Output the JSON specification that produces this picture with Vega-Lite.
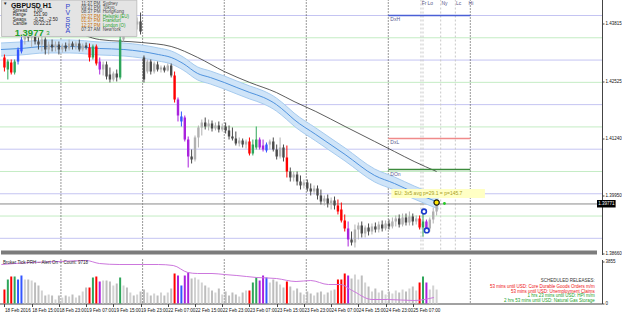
{
"$schema": "https://vega.github.io/schema/vega-lite/v6.json",
"padding": {"left": -5, "top": -1.5, "right": 0, "bottom": 0},
"background": "white",
"spacing": 2,
"config": {"view": {"stroke": null}, "font": "Liberation Sans", "axis": {"grid": false, "title": null}},
"datasets": {
"c": [
{"i":0,"t":"R","o":1.43058,"h":1.43125,"l":1.42743,"c":1.42833,"v":14},
{"i":1,"t":"G","o":1.42788,"h":1.43013,"l":1.42564,"c":1.42967,"v":24},
{"i":2,"t":"R","o":1.42946,"h":1.43013,"l":1.42676,"c":1.42721,"v":27},
{"i":3,"t":"G","o":1.42721,"h":1.43013,"l":1.42676,"c":1.42967,"v":27},
{"i":4,"t":"B","o":1.42967,"h":1.43282,"l":1.42901,"c":1.43237,"v":24},
{"i":5,"t":"B","o":1.43193,"h":1.43574,"l":1.43148,"c":1.43461,"v":28},
{"i":6,"t":"U","o":1.43461,"h":1.43798,"l":1.43349,"c":1.43686,"v":24},
{"i":7,"t":"D","o":1.43686,"h":1.43798,"l":1.43417,"c":1.43506,"v":24},
{"i":8,"t":"U","o":1.43506,"h":1.43686,"l":1.43282,"c":1.43574,"v":23},
{"i":9,"t":"D","o":1.43574,"h":1.43686,"l":1.43349,"c":1.43417,"v":21},
{"i":10,"t":"D","o":1.43417,"h":1.43506,"l":1.43237,"c":1.43349,"v":18},
{"i":11,"t":"U","o":1.43349,"h":1.43574,"l":1.43193,"c":1.43461,"v":13},
{"i":12,"t":"D","o":1.43461,"h":1.43506,"l":1.43125,"c":1.43237,"v":8},
{"i":13,"t":"U","o":1.43237,"h":1.43417,"l":1.43125,"c":1.43349,"v":9},
{"i":14,"t":"D","o":1.43349,"h":1.43461,"l":1.43193,"c":1.43282,"v":8},
{"i":15,"t":"U","o":1.43282,"h":1.43417,"l":1.43193,"c":1.43349,"v":4},
{"i":16,"t":"D","o":1.43349,"h":1.43417,"l":1.43125,"c":1.43237,"v":8},
{"i":17,"t":"U","o":1.43237,"h":1.43372,"l":1.43170,"c":1.43327,"v":6},
{"i":18,"t":"D","o":1.43327,"h":1.43394,"l":1.43193,"c":1.43260,"v":8},
{"i":19,"t":"U","o":1.43260,"h":1.43461,"l":1.43215,"c":1.43372,"v":7},
{"i":20,"t":"D","o":1.43372,"h":1.43417,"l":1.43237,"c":1.43305,"v":9},
{"i":21,"t":"U","o":1.43305,"h":1.43417,"l":1.43237,"c":1.43372,"v":6},
{"i":22,"t":"D","o":1.43372,"h":1.43461,"l":1.43193,"c":1.43237,"v":8},
{"i":23,"t":"U","o":1.43237,"h":1.43372,"l":1.43193,"c":1.43327,"v":12},
{"i":24,"t":"D","o":1.43327,"h":1.43394,"l":1.43237,"c":1.43282,"v":16},
{"i":25,"t":"R","o":1.43282,"h":1.43372,"l":1.42967,"c":1.43058,"v":16},
{"i":26,"t":"G","o":1.43058,"h":1.43349,"l":1.43013,"c":1.43305,"v":26},
{"i":27,"t":"R","o":1.43305,"h":1.43349,"l":1.42878,"c":1.42923,"v":27},
{"i":28,"t":"P","o":1.42967,"h":1.43058,"l":1.42676,"c":1.42788,"v":22},
{"i":29,"t":"U","o":1.42788,"h":1.42967,"l":1.42654,"c":1.42901,"v":23},
{"i":30,"t":"D","o":1.42901,"h":1.42967,"l":1.42564,"c":1.42631,"v":23},
{"i":31,"t":"D","o":1.42676,"h":1.42833,"l":1.42497,"c":1.42564,"v":22},
{"i":32,"t":"U","o":1.42564,"h":1.42743,"l":1.42519,"c":1.42698,"v":18},
{"i":33,"t":"D","o":1.42698,"h":1.42788,"l":1.42519,"c":1.42609,"v":20},
{"i":34,"t":"G","o":1.42609,"h":1.44022,"l":1.42564,"c":1.43461,"v":26},
{"i":35,"t":"U","o":1.43461,"h":1.44135,"l":1.43417,"c":1.43910,"v":18},
{"i":36,"t":"D","o":1.43910,"h":1.44090,"l":1.43641,"c":1.43731,"v":16},
{"i":37,"t":"U","o":1.43731,"h":1.44022,"l":1.43641,"c":1.43910,"v":11},
{"i":38,"t":"D","o":1.43910,"h":1.44045,"l":1.43686,"c":1.43798,"v":8},
{"i":39,"t":"U","o":1.43798,"h":1.43955,"l":1.43686,"c":1.43866,"v":9},
{"i":40,"t":"D","o":1.43866,"h":1.44067,"l":1.43574,"c":1.43641,"v":12},
{"i":41,"t":"D","o":1.43058,"h":1.43103,"l":1.42497,"c":1.42564,"v":14},
{"i":42,"t":"U","o":1.42743,"h":1.43013,"l":1.42698,"c":1.42967,"v":11},
{"i":43,"t":"D","o":1.42967,"h":1.43013,"l":1.42676,"c":1.42743,"v":8},
{"i":44,"t":"U","o":1.42743,"h":1.42967,"l":1.42698,"c":1.42923,"v":10},
{"i":45,"t":"D","o":1.42901,"h":1.42967,"l":1.42743,"c":1.42788,"v":8},
{"i":46,"t":"U","o":1.42788,"h":1.42878,"l":1.42721,"c":1.42833,"v":11},
{"i":47,"t":"D","o":1.42833,"h":1.42878,"l":1.42721,"c":1.42766,"v":8},
{"i":48,"t":"U","o":1.42766,"h":1.42923,"l":1.42743,"c":1.42878,"v":11},
{"i":49,"t":"D","o":1.42878,"h":1.42923,"l":1.42609,"c":1.42654,"v":15},
{"i":50,"t":"R","o":1.42654,"h":1.42743,"l":1.42047,"c":1.42115,"v":30},
{"i":51,"t":"P","o":1.42115,"h":1.42160,"l":1.41622,"c":1.41756,"v":28},
{"i":52,"t":"B","o":1.41622,"h":1.41846,"l":1.41509,"c":1.41734,"v":18},
{"i":53,"t":"P","o":1.41711,"h":1.41756,"l":1.41173,"c":1.41217,"v":28},
{"i":54,"t":"P","o":1.41217,"h":1.41285,"l":1.40589,"c":1.40836,"v":31},
{"i":55,"t":"D","o":1.40836,"h":1.40993,"l":1.40679,"c":1.40769,"v":25},
{"i":56,"t":"U","o":1.40769,"h":1.41307,"l":1.40724,"c":1.41263,"v":26},
{"i":57,"t":"U","o":1.41263,"h":1.41532,"l":1.41038,"c":1.41487,"v":24},
{"i":58,"t":"U","o":1.41487,"h":1.41666,"l":1.41307,"c":1.41599,"v":21},
{"i":59,"t":"D","o":1.41599,"h":1.41711,"l":1.41442,"c":1.41509,"v":18},
{"i":60,"t":"U","o":1.41509,"h":1.41666,"l":1.41420,"c":1.41577,"v":16},
{"i":61,"t":"D","o":1.41577,"h":1.41644,"l":1.41397,"c":1.41465,"v":13},
{"i":62,"t":"U","o":1.41465,"h":1.41599,"l":1.41420,"c":1.41532,"v":11},
{"i":63,"t":"D","o":1.41532,"h":1.41622,"l":1.41375,"c":1.41442,"v":15},
{"i":64,"t":"U","o":1.41442,"h":1.41577,"l":1.41397,"c":1.41509,"v":9},
{"i":65,"t":"D","o":1.41509,"h":1.41599,"l":1.41352,"c":1.41420,"v":12},
{"i":66,"t":"D","o":1.41420,"h":1.41532,"l":1.41217,"c":1.41285,"v":8},
{"i":67,"t":"D","o":1.41285,"h":1.41487,"l":1.41195,"c":1.41240,"v":11},
{"i":68,"t":"D","o":1.41240,"h":1.41397,"l":1.41083,"c":1.41128,"v":9},
{"i":69,"t":"U","o":1.41128,"h":1.41263,"l":1.41061,"c":1.41195,"v":7},
{"i":70,"t":"D","o":1.41195,"h":1.41240,"l":1.41038,"c":1.41105,"v":11},
{"i":71,"t":"U","o":1.41105,"h":1.41217,"l":1.41016,"c":1.41173,"v":13},
{"i":72,"t":"R","o":1.41173,"h":1.41263,"l":1.40859,"c":1.40903,"v":13},
{"i":73,"t":"G","o":1.40903,"h":1.41217,"l":1.40859,"c":1.41105,"v":21},
{"i":74,"t":"G","o":1.41038,"h":1.41509,"l":1.40993,"c":1.41217,"v":26},
{"i":75,"t":"P","o":1.41217,"h":1.41263,"l":1.40993,"c":1.41038,"v":23},
{"i":76,"t":"P","o":1.41083,"h":1.41217,"l":1.40948,"c":1.40993,"v":28},
{"i":77,"t":"B","o":1.40971,"h":1.41150,"l":1.40926,"c":1.41105,"v":26},
{"i":78,"t":"U","o":1.41105,"h":1.41217,"l":1.40993,"c":1.41173,"v":21},
{"i":79,"t":"D","o":1.41173,"h":1.41263,"l":1.40948,"c":1.40993,"v":24},
{"i":80,"t":"D","o":1.40993,"h":1.41105,"l":1.40769,"c":1.40836,"v":22},
{"i":81,"t":"U","o":1.40836,"h":1.41263,"l":1.40791,"c":1.41038,"v":19},
{"i":82,"t":"D","o":1.41038,"h":1.41105,"l":1.40724,"c":1.40814,"v":16},
{"i":83,"t":"R","o":1.40814,"h":1.41083,"l":1.40365,"c":1.40499,"v":22},
{"i":84,"t":"D","o":1.40499,"h":1.40589,"l":1.40275,"c":1.40365,"v":17},
{"i":85,"t":"U","o":1.40365,"h":1.40499,"l":1.40275,"c":1.40432,"v":13},
{"i":86,"t":"D","o":1.40432,"h":1.40499,"l":1.40186,"c":1.40275,"v":15},
{"i":87,"t":"D","o":1.40275,"h":1.40410,"l":1.40095,"c":1.40186,"v":11},
{"i":88,"t":"U","o":1.40186,"h":1.40320,"l":1.40118,"c":1.40253,"v":9},
{"i":89,"t":"D","o":1.40253,"h":1.40320,"l":1.40051,"c":1.40118,"v":12},
{"i":90,"t":"D","o":1.40118,"h":1.40231,"l":1.39961,"c":1.40051,"v":10},
{"i":91,"t":"U","o":1.40051,"h":1.40186,"l":1.39983,"c":1.40118,"v":8},
{"i":92,"t":"D","o":1.40118,"h":1.40186,"l":1.39871,"c":1.39961,"v":11},
{"i":93,"t":"D","o":1.39961,"h":1.40095,"l":1.39759,"c":1.39826,"v":12},
{"i":94,"t":"U","o":1.39826,"h":1.39961,"l":1.39737,"c":1.39894,"v":9},
{"i":95,"t":"D","o":1.39894,"h":1.39983,"l":1.39692,"c":1.39781,"v":11},
{"i":96,"t":"U","o":1.39781,"h":1.39916,"l":1.39647,"c":1.39849,"v":13},
{"i":97,"t":"D","o":1.39849,"h":1.39938,"l":1.39647,"c":1.39737,"v":14},
{"i":98,"t":"R","o":1.39737,"h":1.39871,"l":1.39535,"c":1.39602,"v":24},
{"i":99,"t":"R","o":1.39647,"h":1.39804,"l":1.39355,"c":1.39400,"v":24},
{"i":100,"t":"R","o":1.39400,"h":1.39535,"l":1.39153,"c":1.39221,"v":30},
{"i":101,"t":"P","o":1.39221,"h":1.39378,"l":1.38817,"c":1.38974,"v":28},
{"i":102,"t":"D","o":1.38974,"h":1.39153,"l":1.38839,"c":1.38906,"v":25},
{"i":103,"t":"U","o":1.38906,"h":1.39310,"l":1.38794,"c":1.39198,"v":29},
{"i":104,"t":"U","o":1.39198,"h":1.39355,"l":1.38974,"c":1.39288,"v":24},
{"i":105,"t":"D","o":1.39288,"h":1.39378,"l":1.39019,"c":1.39109,"v":28},
{"i":106,"t":"U","o":1.39109,"h":1.39288,"l":1.39019,"c":1.39243,"v":21},
{"i":107,"t":"D","o":1.39243,"h":1.39333,"l":1.39064,"c":1.39153,"v":17},
{"i":108,"t":"U","o":1.39153,"h":1.39333,"l":1.39086,"c":1.39266,"v":12},
{"i":109,"t":"D","o":1.39266,"h":1.39355,"l":1.39131,"c":1.39198,"v":15},
{"i":110,"t":"U","o":1.39198,"h":1.39378,"l":1.39131,"c":1.39310,"v":11},
{"i":111,"t":"D","o":1.39310,"h":1.39400,"l":1.39153,"c":1.39221,"v":13},
{"i":112,"t":"U","o":1.39221,"h":1.39400,"l":1.39176,"c":1.39333,"v":9},
{"i":113,"t":"D","o":1.39333,"h":1.39422,"l":1.39198,"c":1.39266,"v":12},
{"i":114,"t":"U","o":1.39266,"h":1.39468,"l":1.39221,"c":1.39378,"v":10},
{"i":115,"t":"U","o":1.39378,"h":1.39513,"l":1.39266,"c":1.39445,"v":13},
{"i":116,"t":"D","o":1.39445,"h":1.39535,"l":1.39243,"c":1.39310,"v":11},
{"i":117,"t":"U","o":1.39310,"h":1.39557,"l":1.39266,"c":1.39468,"v":14},
{"i":118,"t":"D","o":1.39468,"h":1.39557,"l":1.39288,"c":1.39355,"v":12},
{"i":119,"t":"U","o":1.39355,"h":1.39602,"l":1.39288,"c":1.39490,"v":15},
{"i":120,"t":"D","o":1.39490,"h":1.39557,"l":1.39288,"c":1.39378,"v":17},
{"i":121,"t":"U","o":1.39378,"h":1.39513,"l":1.39310,"c":1.39445,"v":13},
{"i":122,"t":"R","o":1.39445,"h":1.39513,"l":1.39198,"c":1.39243,"v":21},
{"i":123,"t":"G","o":1.39243,"h":1.39602,"l":1.39041,"c":1.39378,"v":27},
{"i":124,"t":"P","o":1.39378,"h":1.39422,"l":1.39176,"c":1.39221,"v":21},
{"i":125,"t":"U","o":1.39221,"h":1.39468,"l":1.39153,"c":1.39422,"v":14},
{"i":126,"t":"U","o":1.39422,"h":1.39692,"l":1.39333,"c":1.39602,"v":18},
{"i":127,"t":"U","o":1.39602,"h":1.39804,"l":1.39513,"c":1.39771,"v":14}
],
"ma": [
{"i":-1.01,"m":1.43237,"u":1.43383,"d":1.43091},
{"i":4.8,"m":1.43260,"u":1.43406,"d":1.43114},
{"i":12,"m":1.43305,"u":1.43451,"d":1.43159},
{"i":19.2,"m":1.43305,"u":1.43451,"d":1.43159},
{"i":27.9,"m":1.43260,"u":1.43406,"d":1.43114},
{"i":35.1,"m":1.43237,"u":1.43383,"d":1.43091},
{"i":40.3,"m":1.43193,"u":1.43339,"d":1.43047},
{"i":45.2,"m":1.43125,"u":1.43271,"d":1.42979},
{"i":49,"m":1.43058,"u":1.43204,"d":1.42912},
{"i":52.5,"m":1.42923,"u":1.43069,"d":1.42777},
{"i":56.8,"m":1.42698,"u":1.42844,"d":1.42552},
{"i":60.5,"m":1.42609,"u":1.42755,"d":1.42463},
{"i":64.6,"m":1.42497,"u":1.42643,"d":1.42351},
{"i":68.3,"m":1.42384,"u":1.42530,"d":1.42238},
{"i":72.1,"m":1.42272,"u":1.42418,"d":1.42126},
{"i":76.2,"m":1.42160,"u":1.42306,"d":1.42014},
{"i":79.9,"m":1.42003,"u":1.42149,"d":1.41857},
{"i":82.8,"m":1.41823,"u":1.41969,"d":1.41677},
{"i":85.1,"m":1.41666,"u":1.41812,"d":1.41520},
{"i":91.5,"m":1.41330,"u":1.41476,"d":1.41184},
{"i":100.1,"m":1.40881,"u":1.41027,"d":1.40735},
{"i":108.8,"m":1.40410,"u":1.40556,"d":1.40264},
{"i":114.6,"m":1.40231,"u":1.40377,"d":1.40085},
{"i":120.4,"m":1.40028,"u":1.40174,"d":1.39882},
{"i":127.6,"m":1.39804,"u":1.39950,"d":1.39658}
],
"ma2": [
{"i":20,"p":1.43686},{"i":27.9,"p":1.43461},{"i":40.3,"p":1.43394},{"i":49,"p":1.43305},{"i":56.8,"p":1.43058},{"i":64.6,"p":1.42743},{"i":72.1,"p":1.42497},{"i":79.9,"p":1.42272},{"i":85.1,"p":1.42070},{"i":91.5,"p":1.41846},{"i":100.1,"p":1.41509},{"i":108.8,"p":1.41173},{"i":114.6,"p":1.40948},{"i":120.4,"p":1.40724},{"i":127,"p":1.40499}
],
"vma": [
{"i":-0.9,"v":39},{"i":7.7,"v":41},{"i":16.3,"v":42},{"i":24,"v":43},{"i":27.9,"v":40},{"i":33.7,"v":39},{"i":40.6,"v":39},{"i":45.2,"v":39},{"i":49.6,"v":38},{"i":53.9,"v":31},{"i":56.8,"v":30},{"i":61,"v":30},{"i":64.6,"v":29},{"i":68.3,"v":28},{"i":74.1,"v":26},{"i":79.9,"v":25},{"i":85.7,"v":22},{"i":90,"v":23},{"i":95.2,"v":19},{"i":98.7,"v":19},{"i":102.2,"v":13},{"i":108,"v":4},{"i":112.6,"v":4},{"i":120.4,"v":3},{"i":126.2,"v":6}
],
"levels": [
{"p":1.44,"k":"whole"},{"p":1.435,"k":"half"},{"p":1.43,"k":"whole"},{"p":1.425,"k":"half"},{"p":1.42,"k":"whole"},{"p":1.415,"k":"half"},{"p":1.41,"k":"whole"},{"p":1.405,"k":"half"},{"p":1.40,"k":"whole"},{"p":1.395,"k":"half"},{"p":1.39,"k":"whole"}
],
"days": [{"i":16.6},{"i":40.6},{"i":64.6},{"i":88.7},{"i":112.8},{"i":136.9}],
"sess": [{"i":122.4},{"i":123.0},{"i":128.2},{"i":132.5}],
"sesslab": [{"i":122.6,"p":1.44335,"n":"Fr"},{"i":124.3,"p":1.44335,"n":"Lo"},{"i":128.4,"p":1.44335,"n":"Ny"},{"i":132.7,"p":1.44335,"n":"Lc"},{"i":136.4,"p":1.44335,"n":"Hi"}],
"daylv": [
{"n":"DxH","p":1.44,"i1":112.8,"i2":136.9},
{"n":"DxL","p":1.4124,"i1":112.8,"i2":136.9},
{"n":"DOn","p":1.40544,"i1":112.8,"i2":136.9}
],
"bid": [{"p":1.39771}],
"sep": [{"i1":-1.01,"i2":174.13,"p1":1.38637,"p2":1.38727}],
"note": [{"i1":113.7,"i2":141.2,"p1":1.40107,"p2":1.39905,"i":114.6,"p":1.40006,"txt":"EU: 3x5 avg p=29.1 = p=145.7"}],
"fractal": [{"i":123.3,"p":1.39602},{"i":124.1,"p":1.39176}],
"cur": [{"i":127,"p":1.39804}],
"tick": [{"i":129.3,"p":1.39781}],
"box": [{"i1":-0.85,"i2":38.9,"p1":1.44345,"p2":1.43529}],
"pxbox": [{"i1":174.13,"i2":179.6,"p1":1.3986,"p2":1.39692,"i":174.5,"p":1.39771,"txt":"1.39771"}],
"title": [{"i":1.9,"p":1.44224,"txt":"GBPUSD  H1"}],
"quote": [{"i":3.0,"p":1.43618,"txt":"1.3977"}],
"quote2": [{"i":12.3,"p":1.436,"txt":"3"}],
"info": [
{"i":-0.4,"p":1.44247,"txt":"▼"},
{"i":2.46,"p":1.44090,"txt":"Spread"},
{"i":2.46,"p":1.44000,"txt":"Range"},
{"i":2.46,"p":1.43910,"txt":"Swaps"},
{"i":2.46,"p":1.43820,"txt":"Candle"},
{"i":8.53,"p":1.44090,"txt":"1.00"},
{"i":8.53,"p":1.44000,"txt":"151.90"},
{"i":8.53,"p":1.43910,"txt":"-0.25 , -2.50"},
{"i":8.53,"p":1.43820,"txt":"00:22:21"}
],
"pvsra": [
{"i":18.6,"p":1.44191,"txt":"P"},{"i":18.6,"p":1.44045,"txt":"V"},{"i":18.6,"p":1.43899,"txt":"S"},{"i":18.6,"p":1.43775,"txt":"R"},{"i":18.6,"p":1.43641,"txt":"A"}
],
"clock": [
{"it":22.6,"ic":28.9,"p":1.44269,"tm":"11:37 PM","city":"Sydney","s":"closed"},
{"it":22.6,"ic":28.9,"p":1.44173,"tm":"09:37 PM","city":"Tokyo","s":"closed"},
{"it":22.6,"ic":28.9,"p":1.44074,"tm":"08:37 PM","city":"HongKong","s":"closed"},
{"it":22.6,"ic":28.9,"p":1.43973,"tm":"02:37 PM","city":"Helsinki (EU)","s":"open"},
{"it":22.6,"ic":28.9,"p":1.43874,"tm":"01:37 PM","city":"Frankfurt","s":"open"},
{"it":22.6,"ic":28.9,"p":1.43775,"tm":"12:37 PM","city":"London (O)","s":"open"},
{"it":22.6,"ic":28.9,"p":1.43675,"tm":"07:37 AM","city":"NewYork","s":"closed"}
],
"ind": [{"i":-0.4,"v":41,"txt":"Broker Tick PRH -- Alert On -- Count: 9718"}],
"sched": [
{"i":173.5,"v":23,"txt":"SCHEDULED RELEASES:","k":"head"},
{"i":173.5,"v":17,"txt":"53 mins until USD: Core Durable Goods Orders m/m","k":"soon"},
{"i":173.5,"v":12,"txt":"53 mins until USD: Unemployment Claims","k":"soon"},
{"i":173.5,"v":7.5,"txt":"1 hrs 23 mins until USD: HPI m/m","k":"later"},
{"i":173.5,"v":3,"txt":"2 hrs 53 mins until USD: Natural Gas Storage","k":"later"}
]
},
"vconcat": [
{
"width": 606, "height": 255,
"layer": [
{"data": {"name": "levels"}, "transform": [{"filter": "datum.k == 'whole'"}],
 "mark": {"type": "rule", "color": "#c4c4f2", "strokeWidth": 1},
 "encoding": {"y": {"field": "p", "type": "quantitative", "scale": {"domain": [1.38637, 1.44359], "nice": false, "zero": false},
   "axis": {"orient": "right", "title": null, "grid": false, "values": [1.3866,1.38985,1.39305,1.3963,1.3995,1.40275,1.40595,1.40915,1.4124,1.4156,1.41885,1.42205,1.42525,1.4285,1.4317,1.43495,1.43815,1.44135], "format": ".5f", "labelFontSize": 4.5, "labelColor": "#111", "labelOverlap": false, "labelFlush": false, "tickSize": 2, "tickColor": "#444", "domainColor": "#444", "labelPadding": 1}}}},
{"data": {"name": "levels"}, "transform": [{"filter": "datum.k == 'half'"}],
 "mark": {"type": "rule", "color": "#c4ecc4", "strokeWidth": 1},
 "encoding": {"y": {"field": "p", "type": "quantitative"}}},
{"data": {"name": "days"}, "mark": {"type": "rule", "color": "#333", "strokeWidth": 1, "strokeDash": [1, 2]},
 "encoding": {"x": {"field": "i", "type": "quantitative", "scale": {"domain": [-1.01, 174.13], "nice": false, "zero": false}, "axis": null}}},
{"data": {"name": "sess"}, "mark": {"type": "rule", "color": "#c8c8c8", "strokeWidth": 1, "strokeDash": [2, 2]},
 "encoding": {"x": {"field": "i", "type": "quantitative", "axis": null}}},
{"data": {"name": "bid"}, "mark": {"type": "rule", "color": "#8a8a8a", "strokeWidth": 1},
 "encoding": {"y": {"field": "p", "type": "quantitative"}}},
{"data": {"name": "ma"}, "mark": {"type": "area", "color": "#cfe4f8", "interpolate": "monotone"},
 "encoding": {"x": {"field": "i", "type": "quantitative", "axis": null}, "y": {"field": "u", "type": "quantitative"}, "y2": {"field": "d"}}},
{"data": {"name": "ma"}, "mark": {"type": "line", "color": "#a6cbef", "strokeWidth": 1, "interpolate": "monotone"},
 "encoding": {"x": {"field": "i", "type": "quantitative", "axis": null}, "y": {"field": "u", "type": "quantitative"}}},
{"data": {"name": "ma"}, "mark": {"type": "line", "color": "#a6cbef", "strokeWidth": 1, "interpolate": "monotone"},
 "encoding": {"x": {"field": "i", "type": "quantitative", "axis": null}, "y": {"field": "d", "type": "quantitative"}}},
{"data": {"name": "ma"}, "mark": {"type": "line", "color": "#4f93de", "strokeWidth": 1, "interpolate": "monotone"},
 "encoding": {"x": {"field": "i", "type": "quantitative", "axis": null}, "y": {"field": "m", "type": "quantitative"}}},
{"data": {"name": "ma2"}, "mark": {"type": "line", "color": "#333", "strokeWidth": 0.8, "interpolate": "monotone"},
 "encoding": {"x": {"field": "i", "type": "quantitative", "axis": null}, "y": {"field": "p", "type": "quantitative"}}},
{"data": {"name": "c"}, "mark": {"type": "rule", "strokeWidth": 1},
 "encoding": {"x": {"field": "i", "type": "quantitative", "axis": null}, "y": {"field": "l", "type": "quantitative"}, "y2": {"field": "h"},
   "color": {"field": "t", "type": "nominal", "legend": null, "scale": {"domain": ["R","G","B","P","U","D"], "range": ["#ff0000","#2ea55a","#3355ff","#aa22dd","#b0b0b0","#4a4a4a"]}}}},
{"data": {"name": "c"}, "mark": {"type": "bar", "size": 2.4},
 "encoding": {"x": {"field": "i", "type": "quantitative", "axis": null}, "y": {"field": "o", "type": "quantitative"}, "y2": {"field": "c"},
   "color": {"field": "t", "type": "nominal", "legend": null}}},
{"data": {"name": "daylv"}, "mark": {"type": "rule", "strokeWidth": 1.6},
 "encoding": {"x": {"field": "i1", "type": "quantitative", "axis": null}, "x2": {"field": "i2"}, "y": {"field": "p", "type": "quantitative"},
   "stroke": {"field": "n", "type": "nominal", "legend": null, "scale": {"domain": ["DxH","DxL","DOn"], "range": ["#4a5fd6","#f08a8a","#3c8a3c"]}}}},
{"data": {"name": "daylv"}, "mark": {"type": "text", "align": "left", "baseline": "top", "fontSize": 5, "dx": 2, "dy": 2, "color": "#5a5a90"},
 "encoding": {"x": {"field": "i1", "type": "quantitative", "axis": null}, "y": {"field": "p", "type": "quantitative"}, "text": {"field": "n"}}},
{"data": {"name": "sesslab"}, "mark": {"type": "text", "align": "left", "baseline": "top", "fontSize": 5, "color": "#5a5a8a"},
 "encoding": {"x": {"field": "i", "type": "quantitative", "axis": null}, "y": {"field": "p", "type": "quantitative"}, "text": {"field": "n"}}},
{"data": {"name": "note"}, "mark": {"type": "rect", "color": "#ffffc4"},
 "encoding": {"x": {"field": "i1", "type": "quantitative", "axis": null}, "x2": {"field": "i2"}, "y": {"field": "p1", "type": "quantitative"}, "y2": {"field": "p2"}}},
{"data": {"name": "note"}, "mark": {"type": "text", "align": "left", "baseline": "middle", "fontSize": 5, "color": "#a8a020"},
 "encoding": {"x": {"field": "i", "type": "quantitative", "axis": null}, "y": {"field": "p", "type": "quantitative"}, "text": {"field": "txt"}}},
{"data": {"name": "fractal"}, "mark": {"type": "point", "shape": "circle", "filled": true, "fill": "#ffffff", "stroke": "#1a3acc", "strokeWidth": 1.6, "size": 22, "opacity": 1},
 "encoding": {"x": {"field": "i", "type": "quantitative", "axis": null}, "y": {"field": "p", "type": "quantitative"}}},
{"data": {"name": "cur"}, "mark": {"type": "point", "shape": "circle", "filled": true, "fill": "#ffe600", "stroke": "#111", "strokeWidth": 1.2, "size": 28, "opacity": 1},
 "encoding": {"x": {"field": "i", "type": "quantitative", "axis": null}, "y": {"field": "p", "type": "quantitative"}}},
{"data": {"name": "tick"}, "mark": {"type": "point", "shape": "circle", "filled": true, "color": "#22cc22", "size": 8, "opacity": 1},
 "encoding": {"x": {"field": "i", "type": "quantitative", "axis": null}, "y": {"field": "p", "type": "quantitative"}}},
{"data": {"name": "box"}, "mark": {"type": "rect", "color": "#e4e4e4", "stroke": "#b8b8b8", "strokeWidth": 0.8},
 "encoding": {"x": {"field": "i1", "type": "quantitative", "axis": null}, "x2": {"field": "i2"}, "y": {"field": "p1", "type": "quantitative"}, "y2": {"field": "p2"}}},
{"data": {"name": "info"}, "mark": {"type": "text", "align": "left", "baseline": "middle", "fontSize": 4.5, "color": "#222"},
 "encoding": {"x": {"field": "i", "type": "quantitative", "axis": null}, "y": {"field": "p", "type": "quantitative"}, "text": {"field": "txt"}}},
{"data": {"name": "title"}, "mark": {"type": "text", "align": "left", "baseline": "middle", "fontSize": 7, "fontWeight": "bold", "color": "#111"},
 "encoding": {"x": {"field": "i", "type": "quantitative", "axis": null}, "y": {"field": "p", "type": "quantitative"}, "text": {"field": "txt"}}},
{"data": {"name": "quote"}, "mark": {"type": "text", "align": "left", "baseline": "middle", "fontSize": 9.5, "fontWeight": "bold", "color": "#22a02a"},
 "encoding": {"x": {"field": "i", "type": "quantitative", "axis": null}, "y": {"field": "p", "type": "quantitative"}, "text": {"field": "txt"}}},
{"data": {"name": "quote2"}, "mark": {"type": "text", "align": "left", "baseline": "middle", "fontSize": 6, "color": "#22a02a"},
 "encoding": {"x": {"field": "i", "type": "quantitative", "axis": null}, "y": {"field": "p", "type": "quantitative"}, "text": {"field": "txt"}}},
{"data": {"name": "pvsra"}, "mark": {"type": "text", "align": "center", "baseline": "middle", "fontSize": 7, "color": "#3344cc"},
 "encoding": {"x": {"field": "i", "type": "quantitative", "axis": null}, "y": {"field": "p", "type": "quantitative"}, "text": {"field": "txt"}}},
{"data": {"name": "clock"}, "transform": [{"filter": "datum.s == 'closed'"}], "mark": {"type": "text", "align": "left", "baseline": "middle", "fontSize": 4.5, "color": "#444444"},
 "encoding": {"x": {"field": "it", "type": "quantitative", "axis": null}, "y": {"field": "p", "type": "quantitative"}, "text": {"field": "tm"}}},
{"data": {"name": "clock"}, "transform": [{"filter": "datum.s == 'open'"}], "mark": {"type": "text", "align": "left", "baseline": "middle", "fontSize": 4.5, "color": "#c86e00"},
 "encoding": {"x": {"field": "it", "type": "quantitative", "axis": null}, "y": {"field": "p", "type": "quantitative"}, "text": {"field": "tm"}}},
{"data": {"name": "clock"}, "transform": [{"filter": "datum.s == 'closed'"}], "mark": {"type": "text", "align": "left", "baseline": "middle", "fontSize": 4.5, "color": "#444444"},
 "encoding": {"x": {"field": "ic", "type": "quantitative", "axis": null}, "y": {"field": "p", "type": "quantitative"}, "text": {"field": "city"}}},
{"data": {"name": "clock"}, "transform": [{"filter": "datum.s == 'open'"}], "mark": {"type": "text", "align": "left", "baseline": "middle", "fontSize": 4.5, "color": "#22a02a"},
 "encoding": {"x": {"field": "ic", "type": "quantitative", "axis": null}, "y": {"field": "p", "type": "quantitative"}, "text": {"field": "city"}}},
{"data": {"name": "sep"}, "mark": {"type": "rect", "color": "#7c7c7c"},
 "encoding": {"x": {"field": "i1", "type": "quantitative", "axis": null}, "x2": {"field": "i2"}, "y": {"field": "p1", "type": "quantitative"}, "y2": {"field": "p2"}}},
{"data": {"name": "pxbox"}, "mark": {"type": "rect", "color": "#000000"},
 "encoding": {"x": {"field": "i1", "type": "quantitative", "axis": null}, "x2": {"field": "i2"}, "y": {"field": "p1", "type": "quantitative"}, "y2": {"field": "p2"}}},
{"data": {"name": "pxbox"}, "mark": {"type": "text", "align": "left", "baseline": "middle", "fontSize": 4.5, "color": "#ffffff"},
 "encoding": {"x": {"field": "i", "type": "quantitative", "axis": null}, "y": {"field": "p", "type": "quantitative"}, "text": {"field": "txt"}}}
]
},
{
"width": 606, "height": 44,
"layer": [
{"data": {"name": "days"}, "mark": {"type": "rule", "color": "#333", "strokeWidth": 1, "strokeDash": [1, 2]},
 "encoding": {"x": {"field": "i", "type": "quantitative", "scale": {"domain": [-1.01, 174.13], "nice": false, "zero": false},
   "axis": {"orient": "bottom", "title": null, "grid": false, "values": [0,8,16,24,32,40,48,56,64,72,80,88,96,104,112,120],
     "labelExpr": "['18 Feb 2016','18 Feb 15:00','18 Feb 23:00','19 Feb 07:00','19 Feb 15:00','19 Feb 23:00','22 Feb 07:00','22 Feb 15:00','22 Feb 23:00','23 Feb 07:00','23 Feb 15:00','23 Feb 23:00','24 Feb 07:00','24 Feb 15:00','24 Feb 23:00','25 Feb 07:00'][round(datum.value/8)]",
     "labelAlign": "left", "labelFontSize": 4.6, "labelColor": "#111", "labelPadding": 1, "labelOverlap": false, "labelFlush": false, "tickSize": 3, "tickColor": "#444", "domainColor": "#444"}}}},
{"data": {"name": "c"}, "mark": {"type": "bar", "size": 2},
 "encoding": {"x": {"field": "i", "type": "quantitative"}, "y": {"field": "v", "type": "quantitative", "scale": {"domain": [0, 44], "nice": false},
   "axis": {"orient": "right", "title": null, "grid": false, "values": [0, 42], "labelExpr": "datum.value == 0 ? '0' : '3855'", "labelFontSize": 4.5, "labelColor": "#111", "labelOverlap": false, "tickSize": 2, "tickColor": "#444", "domainColor": "#444", "labelPadding": 1}},
   "fill": {"field": "t", "type": "nominal", "legend": null, "scale": {"domain": ["R","G","B","P","U","D"], "range": ["#ff0000","#2ea55a","#3355ff","#aa22dd","#d2d2d2","#bdbdbd"]}}}},
{"data": {"name": "vma"}, "mark": {"type": "line", "color": "#cc77dd", "strokeWidth": 1, "interpolate": "monotone"},
 "encoding": {"x": {"field": "i", "type": "quantitative"}, "y": {"field": "v", "type": "quantitative"}}},
{"data": {"name": "ind"}, "mark": {"type": "text", "align": "left", "baseline": "middle", "fontSize": 4.5, "color": "#222"},
 "encoding": {"x": {"field": "i", "type": "quantitative"}, "y": {"field": "v", "type": "quantitative"}, "text": {"field": "txt"}}},
{"data": {"name": "sched"}, "transform": [{"filter": "datum.k == 'head'"}], "mark": {"type": "text", "align": "right", "baseline": "middle", "fontSize": 4.5, "color": "#333333"},
 "encoding": {"x": {"field": "i", "type": "quantitative"}, "y": {"field": "v", "type": "quantitative"}, "text": {"field": "txt"}}},
{"data": {"name": "sched"}, "transform": [{"filter": "datum.k == 'soon'"}], "mark": {"type": "text", "align": "right", "baseline": "middle", "fontSize": 4.5, "color": "#ee1111"},
 "encoding": {"x": {"field": "i", "type": "quantitative"}, "y": {"field": "v", "type": "quantitative"}, "text": {"field": "txt"}}},
{"data": {"name": "sched"}, "transform": [{"filter": "datum.k == 'later'"}], "mark": {"type": "text", "align": "right", "baseline": "middle", "fontSize": 4.5, "color": "#22a02a"},
 "encoding": {"x": {"field": "i", "type": "quantitative"}, "y": {"field": "v", "type": "quantitative"}, "text": {"field": "txt"}}}
]
}
]
}
